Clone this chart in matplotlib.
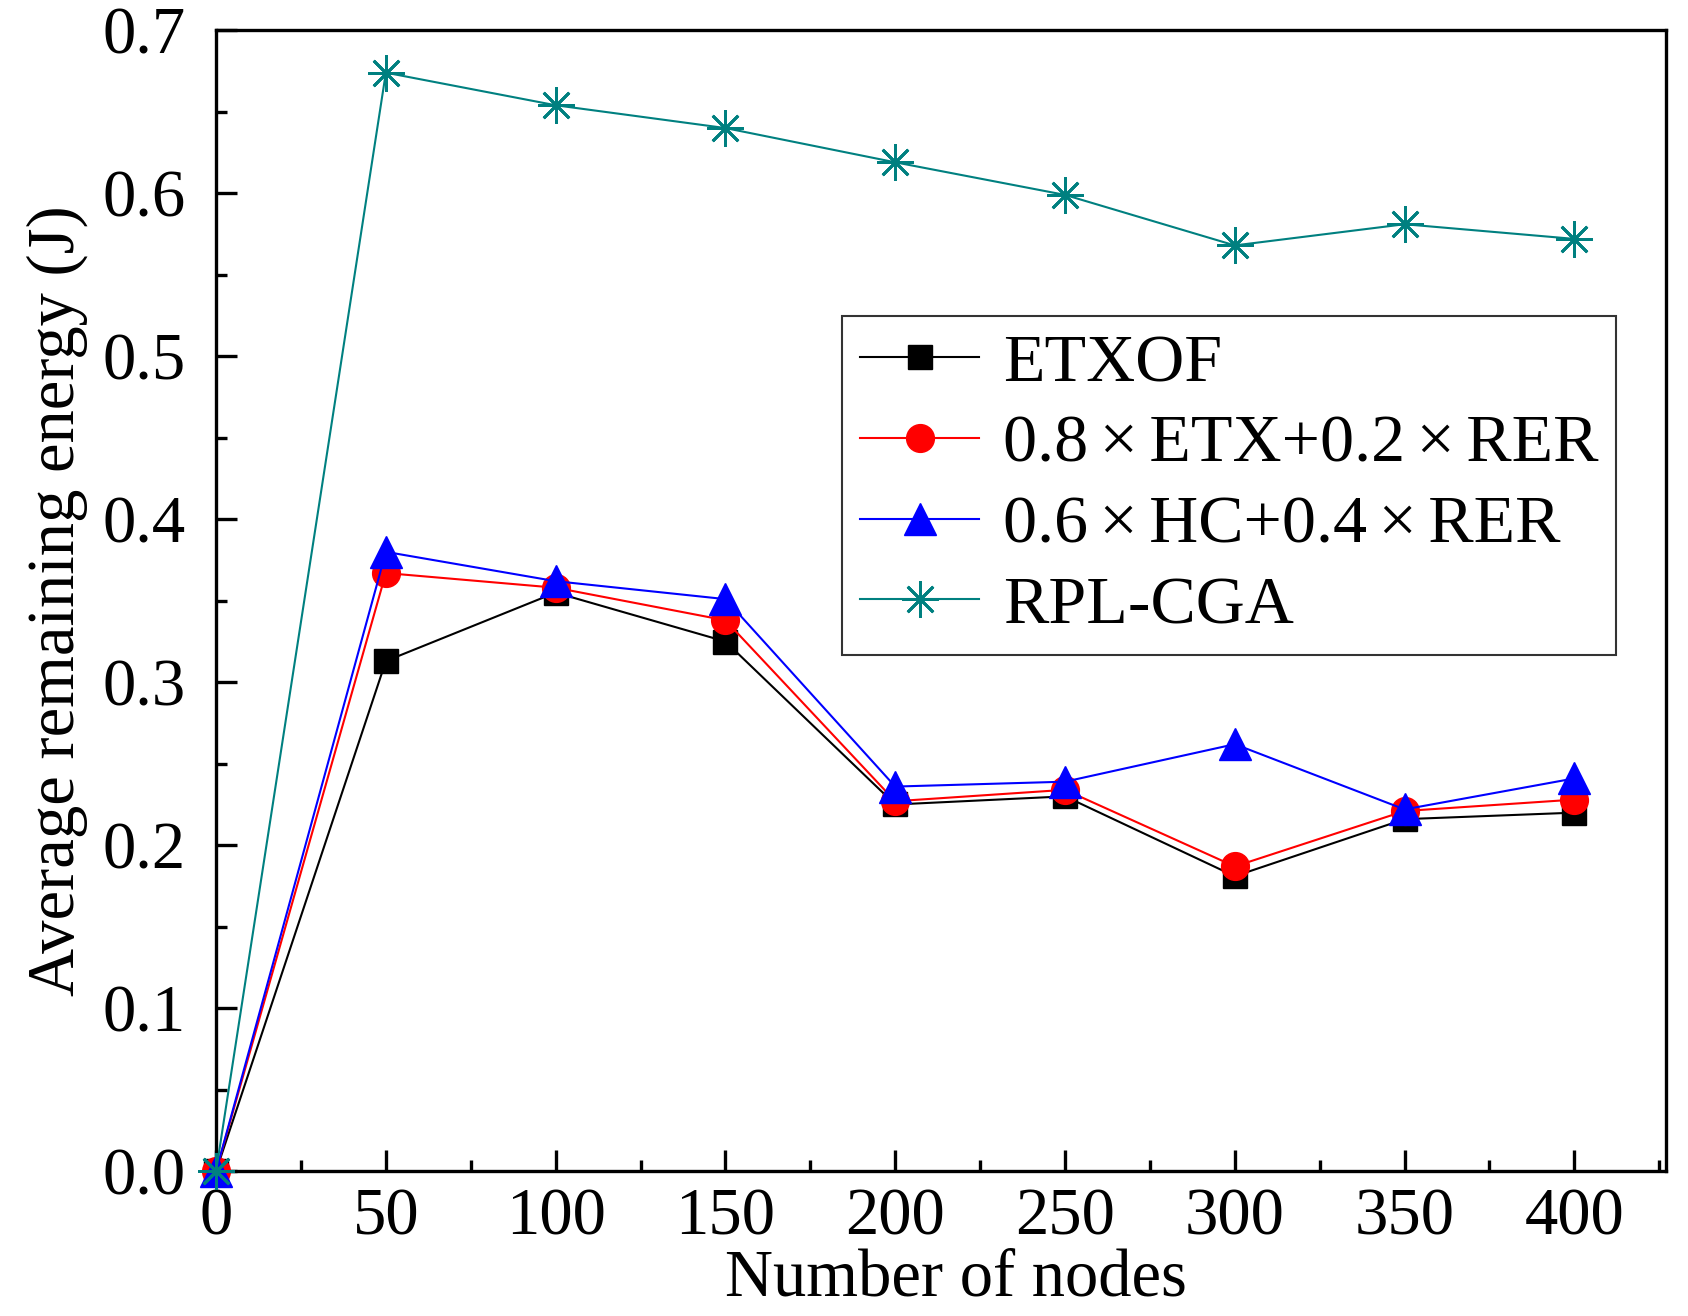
import matplotlib
matplotlib.use("Agg")
import matplotlib.pyplot as plt
from matplotlib.ticker import MultipleLocator, FixedLocator

plt.rcParams['font.family'] = ['Liberation Serif', 'DejaVu Serif']

nodes = [0, 50, 100, 150, 200, 250, 300, 350, 400]
etxof = [0.0, 0.313, 0.355, 0.325, 0.225, 0.230, 0.181, 0.216, 0.220]
etx_rer = [0.0, 0.367, 0.358, 0.338, 0.227, 0.234, 0.187, 0.221, 0.228]
hc_rer = [0.0, 0.380, 0.362, 0.351, 0.236, 0.239, 0.262, 0.222, 0.241]
rpl_cga = [0.0, 0.674, 0.654, 0.640, 0.619, 0.599, 0.568, 0.581, 0.572]

labels = ["ETXOF", "0.8\u2006×\u2006ETX+0.2\u2006×\u2006RER",
          "0.6\u2006×\u2006HC+0.4\u2006×\u2006RER", "RPL-CGA"]
xticks = [0, 50, 100, 150, 200, 250, 300, 350, 400]
yticks = [0.0, 0.1, 0.2, 0.3, 0.4, 0.5, 0.6, 0.7]

fig = plt.figure(figsize=(16.88, 13.16), dpi=100)
ax = fig.add_axes([0.128, 0.110, 0.859, 0.867])

lw = 1.5
ax.plot(nodes, etxof, color='black', lw=lw, marker='s', ms=17, label=labels[0], zorder=3)
ax.plot(nodes, etx_rer, color='#FF0000', lw=lw, marker='o', ms=20, label=labels[1], zorder=4)
ax.plot(nodes, hc_rer, color='#0000FF', lw=lw, marker='^', ms=23, label=labels[2], zorder=5)
ax.plot(nodes, rpl_cga, color='#008080', lw=lw, marker=(8, 2, 0), ms=26, mew=2,
        label=labels[3], zorder=6)
for l in ax.lines:
    l.set_clip_on(False)

ax.set_xlim(0, 427)
ax.set_ylim(0, 0.7)
ax.xaxis.set_major_locator(FixedLocator(xticks))
ax.xaxis.set_minor_locator(MultipleLocator(25))
ax.yaxis.set_major_locator(FixedLocator(yticks))
ax.yaxis.set_minor_locator(MultipleLocator(0.05))
ax.set_xticklabels([str(v) for v in xticks])
ax.set_yticklabels([f"{v:.1f}" for v in yticks])

fs = 48
ax.tick_params(which='major', direction='in', length=15, width=2.4, labelsize=fs,
               top=False, right=False)
ax.tick_params(which='minor', direction='in', length=8, width=2.4, top=False, right=False)
ax.tick_params(axis='x', which='major', pad=12)
ax.tick_params(axis='y', which='major', pad=22)
for s in ax.spines.values():
    s.set_linewidth(2.4)

ax.set_xlabel("Number of nodes", fontsize=fs, labelpad=0)
ax.xaxis.label.set_x(0.51)
ax.set_ylabel("Average remaining energy (J)", fontsize=fs, labelpad=10)

leg = ax.legend(loc='upper left', bbox_to_anchor=(0.499, 0.760), bbox_transform=fig.transFigure,
                fontsize=49, frameon=True, fancybox=False, edgecolor='black',
                handlelength=1.75, handletextpad=0.35, labelspacing=0.28,
                borderpad=0.26, borderaxespad=0, markerscale=1.0)
leg.get_frame().set_linewidth(1.5)

fig.savefig("out.png", dpi=100)
